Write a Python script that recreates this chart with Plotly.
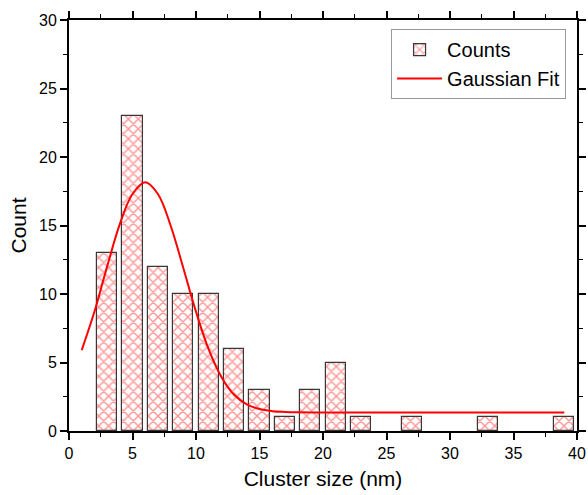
import plotly.graph_objects as go

# Histogram data
bin_centers = [3, 5, 7, 9, 11, 13, 15, 17, 19, 21, 23, 27, 33, 39]
counts = [13, 23, 12, 10, 10, 6, 3, 1, 3, 5, 1, 1, 1, 1]

# Gaussian fit curve
fit_x = [1, 2, 3, 4, 5, 6, 7, 8, 9, 10, 11, 12, 13, 14, 15, 16, 17, 18, 20, 25, 30, 35, 39]
fit_y = [5.9, 8.7, 12.0, 15.1, 17.3, 18.15, 17.3, 15.0, 11.9, 8.7, 5.95, 3.95, 2.65, 1.95,
         1.6, 1.45, 1.39, 1.36, 1.35, 1.35, 1.35, 1.35, 1.35]

FONT = "Liberation Sans, Arial, sans-serif"

fig = go.Figure()
fig.add_trace(go.Bar(
    x=bin_centers, y=counts, width=1.6, name="Counts",
    marker=dict(color="white",
                line=dict(color="#383838", width=1.2),
                pattern=dict(shape="x", fgcolor="#ff2a2a", bgcolor="white",
                             size=7, solidity=0.36)),
))
fig.add_trace(go.Scatter(
    x=fit_x, y=fit_y, mode="lines", name="Gaussian Fit",
    line=dict(color="#ff0000", width=2, shape="spline", smoothing=1.0),
))

axis_common = dict(
    showline=True, linecolor="black", linewidth=1.8, mirror="ticks",
    ticks="outside", ticklen=7, tickwidth=1.5, tickcolor="black",
    showgrid=False, zeroline=False, automargin=False,
    tickfont=dict(family=FONT, size=16, color="black"),
    title_font=dict(family=FONT, size=21, color="black"),
)

fig.update_xaxes(range=[0, 40], dtick=5, tick0=0,
                 title_text="Cluster size (nm)", title_standoff=10,
                 minor=dict(ticks="outside", ticklen=4, tickwidth=1.2, tickcolor="black", dtick=2.5),
                 **axis_common)
fig.update_yaxes(range=[0, 30], dtick=5, tick0=0,
                 title_text="Count", title_standoff=7,
                 minor=dict(ticks="outside", ticklen=4, tickwidth=1.2, tickcolor="black", dtick=2.5),
                 **axis_common)

fig.update_layout(
    width=588, height=495,
    margin=dict(l=69, r=11, t=20, b=64),
    paper_bgcolor="white", plot_bgcolor="white",
    font=dict(family=FONT, size=16, color="black"),
    bargap=0,
    legend=dict(x=0.634, y=0.978, xanchor="left", yanchor="top",
                bordercolor="#999999", borderwidth=1, bgcolor="white",
                font=dict(family=FONT, size=20, color="black"),
                itemwidth=45, tracegroupgap=0),
    showlegend=True,
)

fig.write_html("out.html")
